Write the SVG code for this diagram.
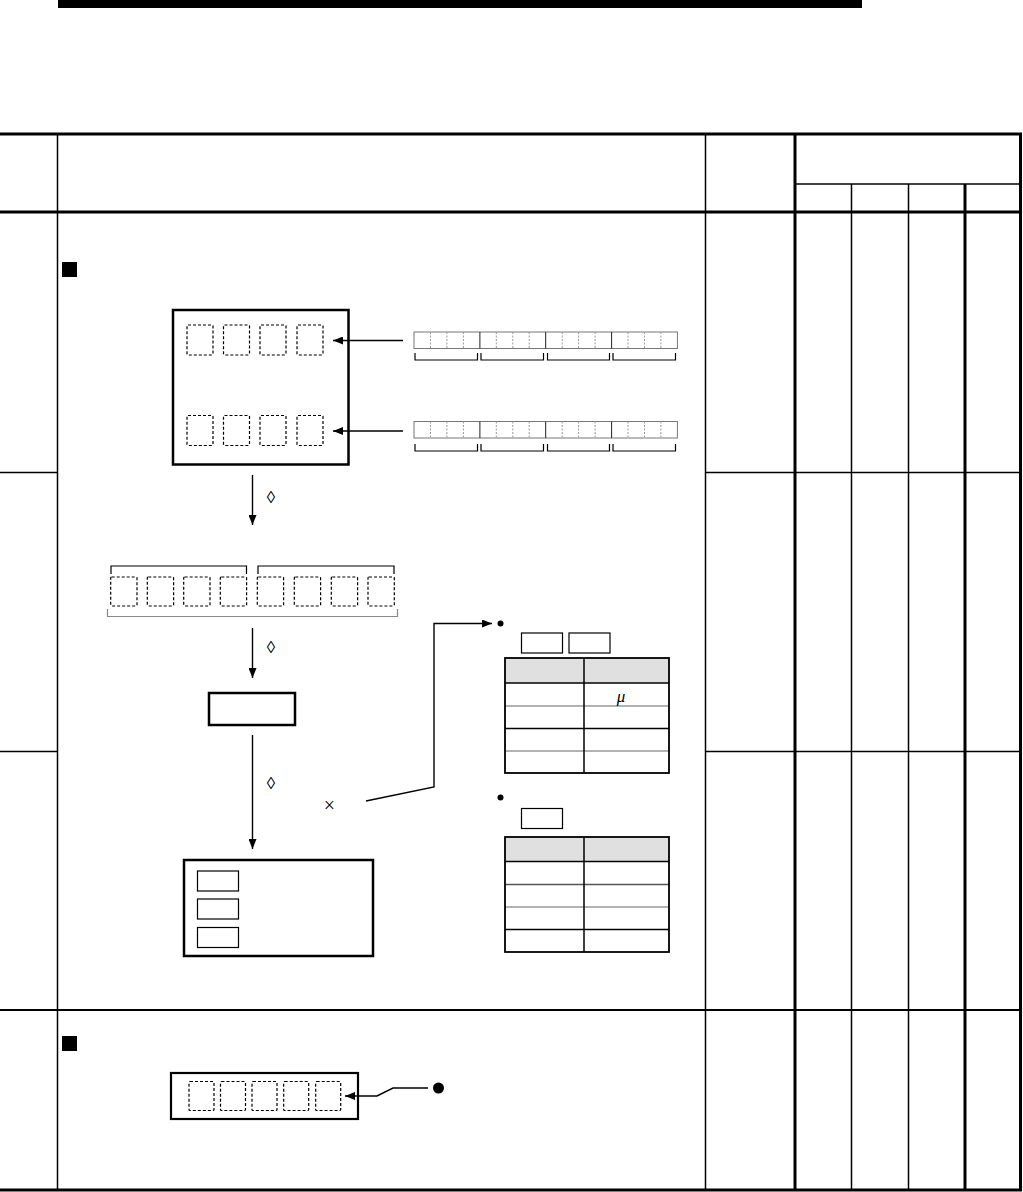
<svg xmlns="http://www.w3.org/2000/svg" width="1023" height="1192" viewBox="0 0 1023 1192">
<style>
.thick{stroke:#000;stroke-width:3;fill:none}
.thin{stroke:#000;stroke-width:1.5;fill:none}
.box{fill:#fff;stroke:#000;stroke-width:2.5}
.sbox{fill:#fff;stroke:#000;stroke-width:1.2}
.dash{fill:none;stroke:#000;stroke-width:1.2;stroke-dasharray:3 2}
.inner{stroke:#999;stroke-width:1;stroke-dasharray:2 1.5}
.grp{stroke:#222;stroke-width:1}
.brk{fill:none;stroke:#000;stroke-width:1.2}
.conn{fill:none;stroke:#000;stroke-width:1.4}
.glyph{font-family:"Liberation Serif","DejaVu Serif",serif;fill:#000;text-anchor:middle}
.hdr{fill:#e0e0e0}
.tl{stroke:#000;stroke-width:1.5}
.tg{stroke:#999;stroke-width:1.5}
</style>
<defs>
<marker id="ah" markerUnits="userSpaceOnUse" markerWidth="10" markerHeight="8" refX="10" refY="4" orient="auto">
<path d="M0,0 L10,4 L0,8 z" fill="#000"/>
</marker>
</defs>
<rect width="1023" height="1192" fill="#fff"/>
<g id="frame">
<rect x="58" y="0" width="804" height="8" fill="#000"/>
<line class="thick" x1="0" y1="134" x2="1022" y2="134"/>
<line class="thick" x1="0" y1="212" x2="1022" y2="212"/>
<line class="thick" x1="0" y1="1190" x2="1022" y2="1190"/>
<line class="thick" x1="1020.5" y1="133" x2="1020.5" y2="1191"/>
<line class="thin" x1="57.5" y1="134" x2="57.5" y2="1190"/>
<line class="thin" x1="705.5" y1="134" x2="705.5" y2="1190"/>
<line class="thick" x1="795" y1="134" x2="795" y2="1190"/>
<line class="thin" x1="795" y1="184" x2="1021" y2="184"/>
<line class="thin" x1="851.5" y1="184" x2="851.5" y2="1190"/>
<line class="thin" x1="908.5" y1="184" x2="908.5" y2="1190"/>
<line class="thick" x1="965" y1="184" x2="965" y2="1190"/>
<line class="thin" x1="0" y1="472.5" x2="57.5" y2="472.5"/>
<line class="thin" x1="705.5" y1="472.5" x2="1021" y2="472.5"/>
<line class="thin" x1="0" y1="751.5" x2="57.5" y2="751.5"/>
<line class="thin" x1="705.5" y1="751.5" x2="1021" y2="751.5"/>
<line stroke="#000" stroke-width="2" x1="0" y1="1010" x2="1021" y2="1010"/>
</g>
<g id="bullet1"><rect x="62" y="262" width="15" height="15" fill="#000"/></g>
<g id="bullet2"><rect x="62" y="1036" width="15" height="15" fill="#000"/></g>
<g id="register-box">
<rect class="box" x="173" y="310" width="175.5" height="154.5"/>
<rect class="dash" x="187" y="325" width="26" height="30" rx="1"/>
<rect class="dash" x="223.5" y="325" width="26" height="30" rx="1"/>
<rect class="dash" x="260" y="325" width="26" height="30" rx="1"/>
<rect class="dash" x="297" y="325" width="26" height="30" rx="1"/>
<rect class="dash" x="187" y="415.5" width="26" height="30" rx="1"/>
<rect class="dash" x="223.5" y="415.5" width="26" height="30" rx="1"/>
<rect class="dash" x="260" y="415.5" width="26" height="30" rx="1"/>
<rect class="dash" x="297" y="415.5" width="26" height="30" rx="1"/>
</g>
<g id="bit-strip-1">
<rect x="414" y="332" width="263.4" height="16.5" fill="#fff" stroke="#777" stroke-width="1"/>
<g class="inner">
<line x1="430.5" y1="332" x2="430.5" y2="348.5"/><line x1="446.9" y1="332" x2="446.9" y2="348.5"/><line x1="463.4" y1="332" x2="463.4" y2="348.5"/>
<line x1="496.3" y1="332" x2="496.3" y2="348.5"/><line x1="512.8" y1="332" x2="512.8" y2="348.5"/><line x1="529.2" y1="332" x2="529.2" y2="348.5"/>
<line x1="562.2" y1="332" x2="562.2" y2="348.5"/><line x1="578.6" y1="332" x2="578.6" y2="348.5"/><line x1="595.1" y1="332" x2="595.1" y2="348.5"/>
<line x1="628" y1="332" x2="628" y2="348.5"/><line x1="644.5" y1="332" x2="644.5" y2="348.5"/><line x1="660.9" y1="332" x2="660.9" y2="348.5"/>
</g>
<g class="grp">
<line x1="479.9" y1="332" x2="479.9" y2="348.5"/><line x1="545.7" y1="332" x2="545.7" y2="348.5"/><line x1="611.6" y1="332" x2="611.6" y2="348.5"/>
</g>
<path class="brk" d="M415,353 V360 H477.5 V353 M481,353 V360 H543.5 V353 M547.5,353 V360 H609.5 V353 M613,353 V360 H675.5 V353"/>
</g>
<g id="bit-strip-2">
<rect x="414" y="421.5" width="263.4" height="16.5" fill="#fff" stroke="#777" stroke-width="1"/>
<g class="inner">
<line x1="430.5" y1="421.5" x2="430.5" y2="438"/><line x1="446.9" y1="421.5" x2="446.9" y2="438"/><line x1="463.4" y1="421.5" x2="463.4" y2="438"/>
<line x1="496.3" y1="421.5" x2="496.3" y2="438"/><line x1="512.8" y1="421.5" x2="512.8" y2="438"/><line x1="529.2" y1="421.5" x2="529.2" y2="438"/>
<line x1="562.2" y1="421.5" x2="562.2" y2="438"/><line x1="578.6" y1="421.5" x2="578.6" y2="438"/><line x1="595.1" y1="421.5" x2="595.1" y2="438"/>
<line x1="628" y1="421.5" x2="628" y2="438"/><line x1="644.5" y1="421.5" x2="644.5" y2="438"/><line x1="660.9" y1="421.5" x2="660.9" y2="438"/>
</g>
<g class="grp">
<line x1="479.9" y1="421.5" x2="479.9" y2="438"/><line x1="545.7" y1="421.5" x2="545.7" y2="438"/><line x1="611.6" y1="421.5" x2="611.6" y2="438"/>
</g>
<path class="brk" d="M415,444 V451 H477.5 V444 M481,444 V451 H543.5 V444 M547.5,444 V451 H609.5 V444 M613,444 V451 H675.5 V444"/>
</g>
<g id="digit-row">
<path class="brk" d="M111,574 V566 H246.5 V574 M258,574 V566 H394 V574"/>
<rect class="dash" x="110.7" y="577" width="26.3" height="29" rx="1"/>
<rect class="dash" x="147.3" y="577" width="26.3" height="29" rx="1"/>
<rect class="dash" x="183.7" y="577" width="26.3" height="29" rx="1"/>
<rect class="dash" x="220.3" y="577" width="26.3" height="29" rx="1"/>
<rect class="dash" x="257.3" y="577" width="26.3" height="29" rx="1"/>
<rect class="dash" x="294.3" y="577" width="26.3" height="29" rx="1"/>
<rect class="dash" x="331.3" y="577" width="26.3" height="29" rx="1"/>
<rect class="dash" x="368" y="577" width="26.3" height="29" rx="1"/>
<path d="M107.5,609 V616.5 H397.5 V609" fill="none" stroke="#888" stroke-width="1.2"/>
</g>
<g id="value-box"><rect class="box" x="209" y="693" width="86" height="32"/></g>
<g id="result-box">
<rect class="box" x="184" y="860" width="189" height="96"/>
<rect class="sbox" x="197.5" y="871" width="41" height="20"/>
<rect class="sbox" x="197.5" y="899" width="41" height="20"/>
<rect class="sbox" x="197.5" y="927.5" width="41" height="20" stroke="#666"/>
</g>
<g id="table-1">
<rect class="sbox" x="521.5" y="633" width="41" height="20"/>
<rect class="sbox" x="569" y="633" width="41" height="20"/>
<rect class="hdr" x="505" y="658" width="164" height="25"/>
<line class="tl" x1="505" y1="683" x2="669" y2="683"/>
<line class="tg" x1="505" y1="706" x2="669" y2="706"/>
<line class="tl" x1="505" y1="728.5" x2="669" y2="728.5"/>
<line class="tg" x1="505" y1="751" x2="669" y2="751"/>
<line class="tl" x1="584" y1="658" x2="584" y2="773"/>
<rect x="505" y="658" width="164" height="115" fill="none" stroke="#000" stroke-width="1.8"/>
<text class="glyph" x="621" y="702" font-style="italic" font-size="17">μ</text>
</g>
<g id="table-2">
<rect class="sbox" x="521.5" y="808.5" width="41" height="20"/>
<rect class="hdr" x="505" y="837" width="164" height="24.5"/>
<line class="tl" x1="505" y1="861.5" x2="669" y2="861.5"/>
<line x1="505" y1="884.5" x2="669" y2="884.5" stroke="#555" stroke-width="1.5"/>
<line class="tg" x1="505" y1="907" x2="669" y2="907"/>
<line class="tl" x1="505" y1="929.5" x2="669" y2="929.5"/>
<line class="tl" x1="584" y1="837" x2="584" y2="952"/>
<rect x="505" y="837" width="164" height="115" fill="none" stroke="#000" stroke-width="1.8"/>
</g>
<g id="device-box">
<rect x="171" y="1073" width="187" height="46" fill="#fff" stroke="#000" stroke-width="2.2"/>
<rect class="dash" x="189" y="1081.5" width="25" height="29" rx="1"/>
<rect class="dash" x="220.5" y="1081.5" width="25" height="29" rx="1"/>
<rect class="dash" x="252" y="1081.5" width="25" height="29" rx="1"/>
<rect class="dash" x="283.7" y="1081.5" width="25" height="29" rx="1"/>
<rect class="dash" x="315.7" y="1081.5" width="25" height="29" rx="1"/>
</g>
<g id="connectors">
<line class="conn" x1="403" y1="340.5" x2="333" y2="340.5" marker-end="url(#ah)"/>
<line class="conn" x1="403" y1="431" x2="333" y2="431" marker-end="url(#ah)"/>
<line class="conn" x1="252.5" y1="475" x2="252.5" y2="525" marker-end="url(#ah)"/>
<line class="conn" x1="252.5" y1="628" x2="252.5" y2="678" marker-end="url(#ah)"/>
<line class="conn" x1="252.5" y1="735" x2="252.5" y2="849" marker-end="url(#ah)"/>
<polyline class="conn" points="366,801 434,787 434,623.5 492,623.5" marker-end="url(#ah)"/>
<polyline class="conn" points="428,1088 393,1088 377,1096 345,1096" marker-end="url(#ah)"/>
<circle cx="500.5" cy="623.5" r="3" fill="#000"/>
<circle cx="500.5" cy="797.5" r="3" fill="#000"/>
<circle cx="438.5" cy="1088" r="5.5" fill="#000"/>
</g>
<g id="labels">
<text class="glyph" x="271" y="503" font-size="17">◊</text>
<text class="glyph" x="271" y="653" font-size="17">◊</text>
<text class="glyph" x="271" y="788.5" font-size="17">◊</text>
<text class="glyph" x="329.5" y="812" font-size="20">×</text>
</g>
</svg>
